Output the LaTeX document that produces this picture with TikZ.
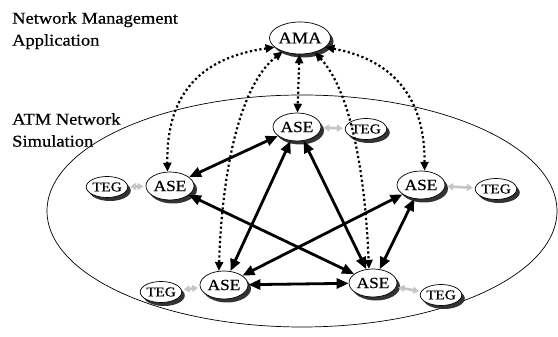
\documentclass[tikz,border=0pt]{standalone}
\usepackage{fontspec}
\setmainfont{Liberation Serif}[FakeStretch=1.12,FakeBold=0.6]
\usetikzlibrary{arrows.meta,shadows,shapes.geometric}
\begin{document}
\begin{tikzpicture}[x=1pt,y=1pt,
  ell/.style={ellipse, draw, line width=0.7pt, fill=white, inner sep=0pt,
    drop shadow={shadow xshift=3pt, shadow yshift=-3.5pt, fill=black!80, opacity=1}},
  ama/.style={ell, minimum width=58pt, minimum height=32pt, font=\fontsize{16.5}{18}\selectfont},
  ase/.style={ell, minimum width=48pt, minimum height=28pt, font=\fontsize{15.5}{18}\selectfont},
  teg/.style={ell, minimum width=36pt, minimum height=21pt, font=\fontsize{13.5}{14}\selectfont},
  lbl/.style={anchor=north west, align=left, inner sep=0pt, font=\fontsize{16.5}{22}\selectfont},
  solidarr/.style={line width=2.8pt, {Triangle[length=12pt,width=10pt]}-{Triangle[length=12pt,width=10pt]}},
  dotarr/.style={line width=2.2pt, dash pattern=on 2.2pt off 2.6pt, {Triangle[length=9pt,width=8pt]}-{Triangle[length=9pt,width=8pt]}},
  tegarr/.style={draw=gray!45, line width=2.6pt, {Triangle[length=6pt,width=7pt]}-{Triangle[length=6pt,width=7pt]}, shorten <=2pt, shorten >=2pt}
]
\useasboundingbox (0,0) rectangle (558,337);
\draw[line width=0.7pt] (302,126) ellipse [x radius=255, y radius=116];

\node[lbl] (nma) at (12,325) {Network Management\\Application};
\node[lbl] (atm) at (12,224) {ATM Network\\Simulation};

\node[ama] (AMA) at (300,299) {AMA};
\node[ase] (ASEt) at (297,210) {ASE};
\node[teg] (TEGt) at (366,208) {TEG};
\node[ase] (ASEl) at (170,151) {ASE};
\node[teg] (TEGl) at (107,150) {TEG};
\node[ase] (ASEbl) at (224,52) {ASE};
\node[teg] (TEGbl) at (161,45) {TEG};
\node[ase] (ASEr) at (421,152) {ASE};
\node[teg] (TEGr) at (496,148) {TEG};
\node[ase] (ASEbr) at (373,54) {ASE};
\node[teg] (TEGbr) at (441,42) {TEG};

% dotted management links
\draw[dotarr] (AMA.200) .. controls (205,280) and (166,247) .. (ASEl.100);
\draw[dotarr] (AMA.218) .. controls (240,252) and (222,167) .. (ASEbl.110);
\draw[dotarr] (AMA) -- (ASEt);
\draw[dotarr] (AMA.-44) .. controls (350,247) and (365,167) .. (ASEbr.106);
\draw[dotarr] (AMA.-20) .. controls (395,277) and (425,237) .. (ASEr.76);

% solid links
\draw[solidarr] (ASEl) -- (ASEt);
\draw[solidarr] (ASEt) -- (ASEbl);
\draw[solidarr] (ASEt) -- (ASEbr);
\draw[solidarr] (ASEl) -- (ASEbr);
\draw[solidarr] (ASEr) -- (ASEbl);
\draw[solidarr] (ASEbl) -- (ASEbr);
\draw[solidarr] (ASEr) -- (ASEbr);

% traffic generators
\draw[tegarr] (ASEt) -- (TEGt);
\draw[tegarr] (TEGl) -- (ASEl);
\draw[tegarr] (TEGbl) -- (ASEbl);
\draw[tegarr] (ASEr) -- (TEGr);
\draw[tegarr] (ASEbr) -- (TEGbr);
\end{tikzpicture}
\end{document}
